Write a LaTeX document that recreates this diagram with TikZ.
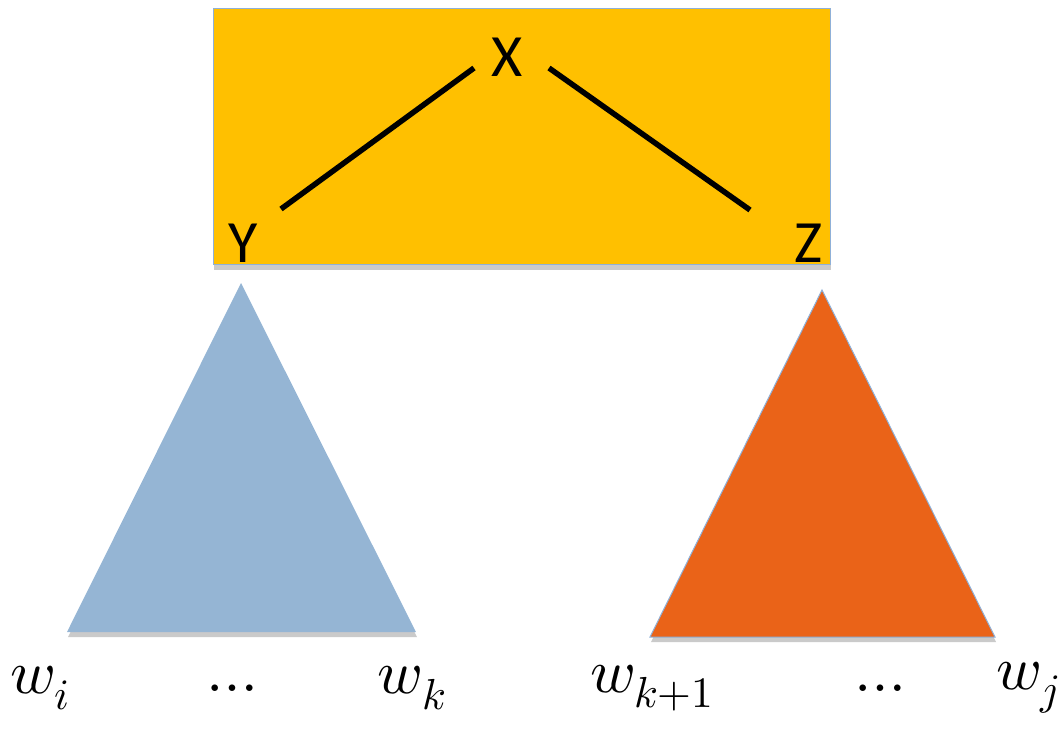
\documentclass[tikz,border=0pt]{standalone}
\usepackage{fontspec}
\usepackage{unicode-math}
\setmainfont{Carlito}
\setmathfont{Latin Modern Math}
\usetikzlibrary{shadows}
\definecolor{boxfill}{HTML}{FFC000}
\definecolor{boxedge}{HTML}{8FB0D8}
\definecolor{bluetri}{HTML}{95B5D4}
\definecolor{orangetri}{HTML}{EA6318}
\tikzset{
  lbl/.style={inner sep=0pt, font=\fontsize{60}{66}\selectfont},
  wlbl/.style={inner sep=0pt, font=\fontsize{62}{70}\selectfont},
  edge/.style={line width=5.5pt, black},
  shad/.style={drop shadow={shadow xshift=1pt, shadow yshift=-5pt, opacity=0.35, fill=black!60}}
}
\begin{document}
\begin{tikzpicture}[x=1pt,y=-1pt]
\useasboundingbox (0,0) rectangle (1064,729);
% box
\node[shad, draw=boxedge, line width=1pt, fill=boxfill, minimum width=617pt, minimum height=256pt, inner sep=0pt] (box) at (521.5,136.5) {};
\node[lbl] (X) at (507,57) {X};
\node[lbl] (Y) at (243,243) {Y};
\node[lbl] (Z) at (809,243) {Z};
\coordinate (XL) at (474,68);
\coordinate (YT) at (281,209);
\coordinate (XR) at (549,68);
\coordinate (ZT) at (750,210);
\draw[edge] (XL) -- (YT);
\draw[edge] (XR) -- (ZT);
% triangles
\fill[bluetri, shad] (241,283) -- (416,632) -- (67,632) -- cycle;
\filldraw[orangetri, draw=boxedge, line width=1pt, shad] (822,290) -- (995,637) -- (650,637) -- cycle;
% labels
\node[wlbl] (wi) at (40,688) {$w_i$};
\node[wlbl] (d1) at (232,688) {$\ldots$};
\node[wlbl] (wk) at (412,688) {$w_k$};
\node[wlbl] (wk1) at (652,688) {$w_{k+1}$};
\node[wlbl] (d2) at (880,688) {$\ldots$};
\node[wlbl] (wj) at (1028,688) {$w_j$};
\end{tikzpicture}
\end{document}
